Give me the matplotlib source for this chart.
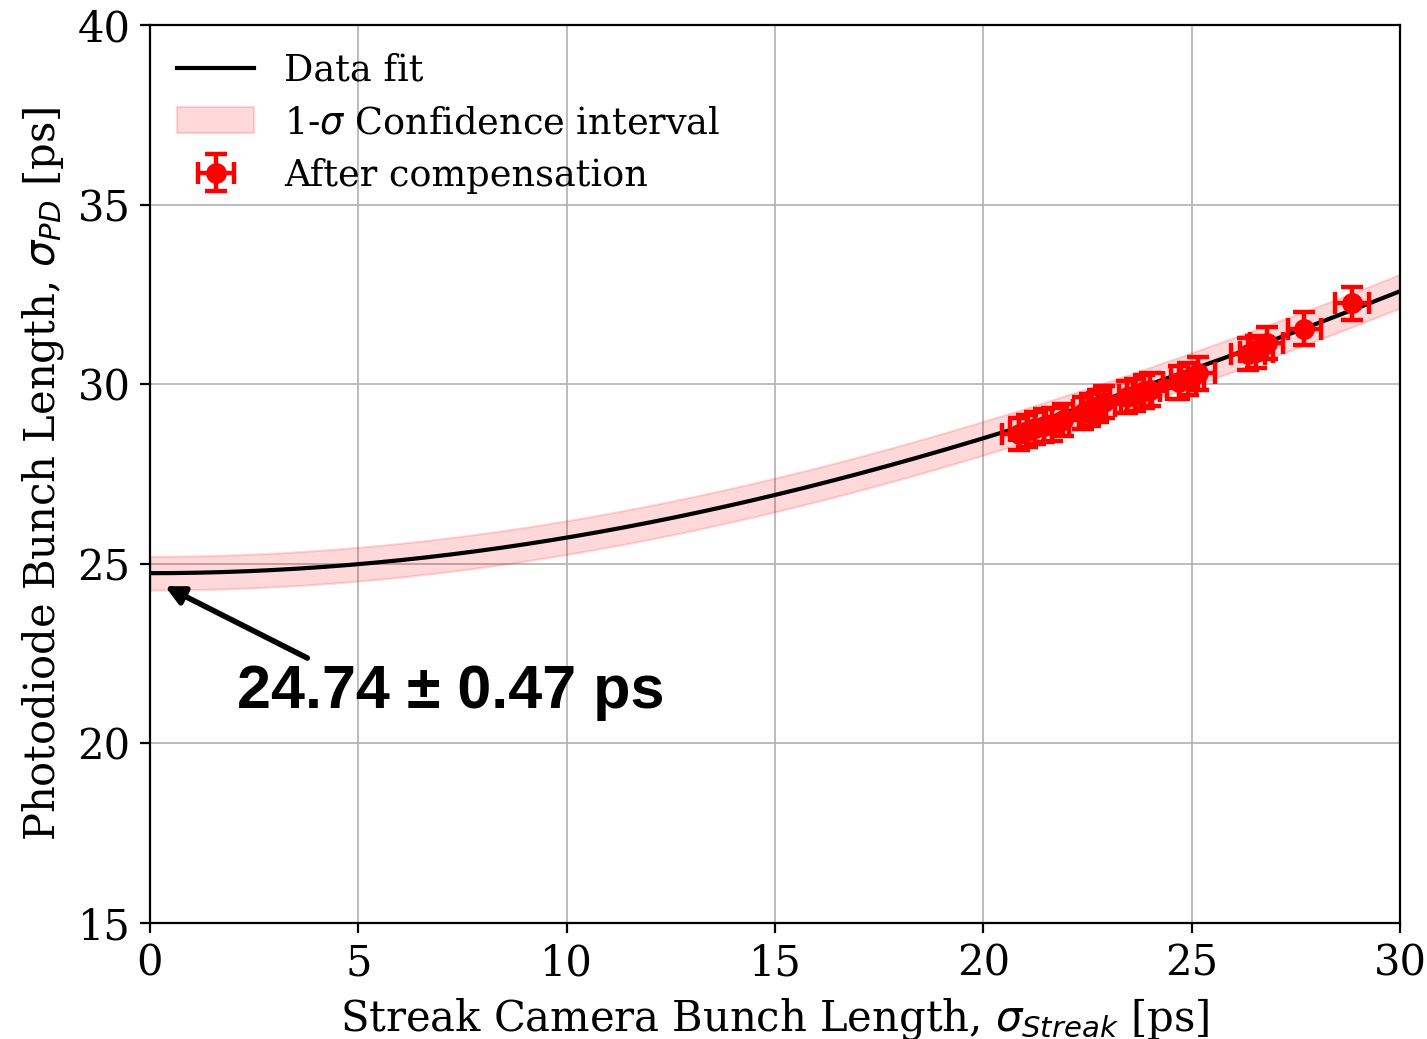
import numpy as np
import matplotlib
matplotlib.use("Agg")
import matplotlib.pyplot as plt

# measured points (streak camera vs photodiode), ps
streak = [20.85, 21.05, 21.25, 21.45, 21.65, 21.90, 22.40, 22.55, 22.75, 22.90,
          23.45, 23.65, 23.85, 24.00, 24.70, 24.90, 25.15, 26.35, 26.55, 26.80,
          27.70, 28.85]
photodiode = [28.62, 28.70, 28.78, 28.85, 28.88, 29.00, 29.20, 29.28, 29.40, 29.50,
              29.65, 29.70, 29.80, 29.85, 30.05, 30.15, 30.30, 30.85, 30.90, 31.15,
              31.55, 32.25]
streak_err = 0.4
pd_err = 0.45

# fit: sigma_PD = sqrt(sigma0^2 + k * sigma_streak^2)
sigma0 = 24.74
sigma0_err = 0.47
k_fit = 0.5
band_halfwidth = 0.47

x_ticks = [0, 5, 10, 15, 20, 25, 30]
y_ticks = [15, 20, 25, 30, 35, 40]

plt.rcParams["font.family"] = "DejaVu Serif"
plt.rcParams["mathtext.fontset"] = "dejavusans"

fig = plt.figure(figsize=(7.135, 5.195), dpi=200)
ax = fig.add_axes([0.1051, 0.1116, 0.876, 0.8643])

xs = np.linspace(0, 30, 300)
fit = np.sqrt(sigma0**2 + k_fit * xs**2)

ax.fill_between(xs, fit - band_halfwidth, fit + band_halfwidth, color="red",
                alpha=0.15, lw=0.8, label=r"1-$\sigma$ Confidence interval", zorder=2)
ax.plot(xs, fit, color="black", lw=1.5, label="Data fit", zorder=3)
ax.errorbar(streak, photodiode, xerr=streak_err, yerr=pd_err, fmt="o", color="red",
            ms=6.5, elinewidth=1.6, capsize=4, capthick=1.6,
            label="After compensation", zorder=4)

ax.annotate(f"{sigma0:.2f} ± {sigma0_err:.2f} ps", xy=(0.36, 24.38),
            xytext=(2.09, 21.43), fontsize=22, fontweight="bold",
            family="Liberation Sans", va="center", ha="left",
            arrowprops=dict(arrowstyle="-|>", color="black", lw=2,
                            mutation_scale=14, shrinkA=0, shrinkB=0,
                            relpos=(0.19, 1.0)))

ax.set_xlim(0, 30)
ax.set_ylim(15, 40)
ax.set_xticks(x_ticks)
ax.set_yticks(y_ticks)
ax.tick_params(labelsize=15)
ax.grid(True, color="#b0b0b0", lw=0.6)
ax.set_axisbelow(True)
ax.set_xlabel(r"Streak Camera Bunch Length, $\sigma_{Streak}$ [ps]", fontsize=15)
ax.set_ylabel(r"Photodiode Bunch Length, $\sigma_{PD}$ [ps]", fontsize=15)

handles, labels = ax.get_legend_handles_labels()
order = [labels.index("Data fit"), labels.index(r"1-$\sigma$ Confidence interval"),
         labels.index("After compensation")]
ax.legend([handles[i] for i in order], [labels[i] for i in order],
          loc="upper left", frameon=False, fontsize=13.2, handlelength=2.1,
          labelspacing=0.45, borderaxespad=0.35)

fig.savefig("out.png", dpi=200)
